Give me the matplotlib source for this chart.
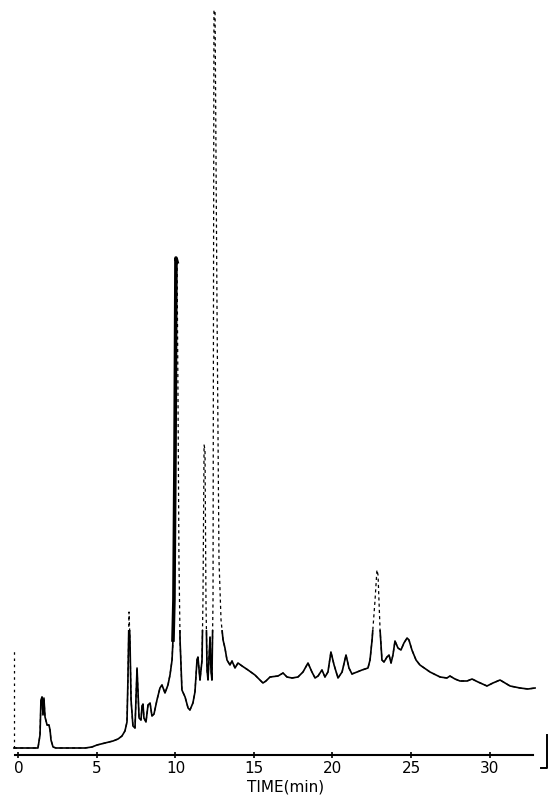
import numpy as np
import matplotlib
matplotlib.use('Agg')
import matplotlib.pyplot as plt
from matplotlib.patches import Rectangle

# retention time (min) and detector response (arbitrary units)
time_min = [-0.29, 1.18, 1.24, 1.37, 1.43, 1.50, 1.56, 1.62, 1.69, 1.82, 1.94, 2.01, 2.07, 2.20, 2.39,
            2.64, 3.28, 4.24, 4.68, 5.00, 5.51, 6.02, 6.34, 6.59, 6.78, 6.91, 6.97, 7.04, 7.10, 7.17,
            7.29, 7.42, 7.48, 7.55, 7.61, 7.68, 7.80, 7.87, 7.93, 7.99, 8.12, 8.25, 8.38, 8.50, 8.63,
            8.82, 9.01, 9.14, 9.33, 9.52, 9.65, 9.78, 9.84, 9.90, 9.97, 10.03, 10.10, 10.16, 10.22,
            10.29, 10.41, 10.61, 10.80, 10.92, 11.11, 11.24, 11.37, 11.43, 11.56, 11.69, 11.75, 11.82,
            11.88, 11.94, 12.01, 12.07, 12.13, 12.20, 12.26, 12.32, 12.39, 12.45, 12.52, 12.64, 12.77,
            12.90, 13.03, 13.15, 13.28, 13.47, 13.60, 13.79, 13.98, 14.24, 14.62, 15.06, 15.38, 15.57,
            15.76, 16.02, 16.53, 16.85, 17.10, 17.42, 17.80, 18.12, 18.44, 18.69, 18.89, 19.08, 19.33,
            19.52, 19.71, 19.90, 20.10, 20.35, 20.61, 20.86, 21.05, 21.24, 21.56, 21.88, 22.26, 22.39,
            22.52, 22.71, 22.83, 22.90, 23.03, 23.15, 23.28, 23.47, 23.60, 23.73, 23.85, 23.98, 24.17,
            24.36, 24.55, 24.75, 24.87, 25.06, 25.32, 25.57, 26.21, 26.85, 27.29, 27.48, 27.80, 28.12,
            28.57, 28.89, 29.27, 29.84, 30.22, 30.67, 30.99, 31.31, 31.94, 32.45, 32.90]
signal = [7, 7, 7, 20, 55, 58, 40, 57, 38, 30, 30, 25, 15, 8, 7,
          7, 7, 7, 8, 10, 12, 14, 16, 19, 24, 33, 75, 143, 115, 55,
          29, 27, 55, 87, 65, 37, 35, 49, 51, 37, 33, 50, 52, 39, 41,
          55, 67, 70, 62, 70, 80, 95, 115, 155, 305, 497, 493, 355, 195,
          115, 65, 58, 47, 45, 52, 63, 95, 98, 75, 95, 155, 310,
          305, 155, 85, 75, 95, 118, 85, 75, 155, 745, 743, 455, 195,
          135, 115, 107, 95, 90, 94, 87, 92, 89, 85, 80, 75, 72,
          74, 78, 79, 82, 78, 77, 78, 83, 92, 83, 77, 79, 85,
          78, 83, 103, 90, 77, 83, 100, 87, 81, 83, 85, 87, 95,
          115, 155, 185, 180, 125, 95, 93, 98, 100, 92, 100, 114, 107,
          105, 112, 117, 115, 105, 95, 90, 83, 78, 77, 79, 76, 74,
          74, 76, 73, 69, 72, 75, 72, 69, 67, 66, 67]

# injection mark and end-of-run mark of the recorder
inject_t = [-0.29, -0.29]
inject_s = [7, 105]
end_t = [33.25, 33.66, 33.66]
end_s = [-13, -13, 20]

xticks = [0, 5, 10, 15, 20, 25, 30]


def make_plot():
    t = np.array(time_min)
    s = np.array(signal)

    fig = plt.figure(figsize=(5.51, 7.97), dpi=100)
    ax = fig.add_axes([0, 0, 1, 1])
    ax.set_xlim(-1.178, 33.917)
    ax.set_ylim(-42, 755)

    # low part of the trace is inked solid, the tall peaks are broken
    solid, = ax.plot(t, s, color='black', lw=1.2)
    clip = Rectangle((-2, -50), 40, 175, transform=ax.transData)
    solid.set_clip_path(clip)
    ax.plot(t, s, color='black', lw=0.9, linestyle=(0, (2.5, 2.5)))

    # the 10 min peak is heavily inked
    m = (t > 9.8) & (t < 10.12)
    ax.plot(t[m], s[m], color='black', lw=2.6)

    ax.plot(inject_t, inject_s, color='black', lw=0.9, linestyle=(0, (2, 3)))
    ax.plot(end_t, end_s, color='black', lw=1.4)

    for side in ['top', 'left', 'right']:
        ax.spines[side].set_visible(False)
    ax.spines['bottom'].set_position(('data', 0))
    ax.spines['bottom'].set_bounds(-0.22, 32.8)
    ax.spines['bottom'].set_linewidth(1.5)

    ax.set_yticks([])
    ax.set_xticks(xticks)
    ax.set_xticklabels([str(v) for v in xticks], fontsize=11, family='DejaVu Sans')
    ax.tick_params(axis='x', direction='inout', length=5, width=1.2, pad=2)

    ax.set_xlabel('TIME(min)', fontsize=11, family='DejaVu Sans', fontweight='medium')
    ax.xaxis.set_label_coords(0.519, 0.022)
    ax.xaxis.label.set_va('top')

    fig.savefig('out.png', dpi=100)
    plt.close(fig)


make_plot()
